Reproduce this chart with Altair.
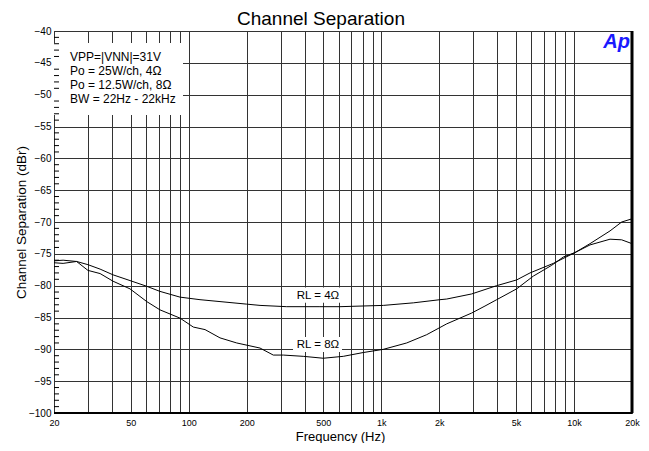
import altair as alt
import pandas as pd

# ---- data ----
f_4ohm = [20, 22.3, 26.2, 30, 34.7, 40.5, 49.6, 60.6, 71, 90.2, 114.5, 145.4, 200, 234.6,
          322.8, 480, 610, 1024, 1466, 2016, 2184, 2944, 3970, 5040, 5910, 7808, 10120,
          12110, 15380, 17680, 20000]
db_4ohm = [-76.1, -76.0, -76.2, -76.7, -77.4, -78.3, -79.2, -80.1, -80.9, -81.8, -82.2, -82.5,
           -82.9, -83.1, -83.3, -83.3, -83.3, -83.1, -82.7, -82.2, -82.1, -81.3, -80.0, -79.1,
           -78.0, -76.5, -74.8, -73.6, -72.7, -72.8, -73.4]
f_8ohm = [20, 22.3, 26.2, 30, 34.7, 40.5, 49.6, 60.6, 71, 90.2, 105.7, 121.6, 145.4, 177.6,
          234.6, 274.9, 309.9, 393.4, 499.6, 634.7, 806, 1024, 1354, 1719, 2184, 2944, 3451,
          3970, 5040, 6148, 7660, 8800, 10120, 12110, 15380, 17680, 20000]
db_8ohm = [-76.4, -76.5, -76.2, -77.6, -78.1, -79.3, -80.5, -82.5, -83.8, -85.1, -86.5, -86.9,
           -88.2, -89.0, -89.8, -90.9, -90.9, -91.1, -91.4, -91.1, -90.5, -90.0, -89.0, -87.7,
           -86.0, -84.3, -83.2, -82.2, -80.5, -78.5, -76.8, -75.5, -74.8, -73.4, -71.4, -70.0,
           -69.5]

x_grid = [20, 30, 40, 50, 60, 70, 80, 90, 100, 200, 300, 400, 500, 600, 700, 800, 900,
          1000, 2000, 3000, 4000, 5000, 6000, 7000, 8000, 9000, 10000, 20000]
x_labelled = [20, 50, 100, 200, 500, 1000, 2000, 5000, 10000, 20000]
y_major = list(range(-100, -39, 5))
y_minor = [v for v in range(-99, -40) if v % 5 != 0]

title_text = "Channel Separation"
notes = ["VPP=|VNN|=31V", "Po = 25W/ch, 4Ω", "Po = 12.5W/ch, 8Ω", "BW = 22Hz - 22kHz"]
rl_text = ["RL = 4Ω", "RL = 8Ω"]
rl_f = [469, 469]
rl_db = [-81.6, -89.35]
rl_box_f1 = [348, 348]
rl_box_f2 = [625, 625]
rl_box_db1 = [-80.3, -88.05]
rl_box_db2 = [-82.7, -90.4]

FONT = "Liberation Sans"

curves = pd.concat([
    pd.DataFrame({"f": f_4ohm, "db": db_4ohm, "s": "4"}),
    pd.DataFrame({"f": f_8ohm, "db": db_8ohm, "s": "8"}),
])

label_expr = ("indexof(%s, datum.value) < 0 ? '' : (datum.value >= 1000 ? "
              "(datum.value/1000) + 'k' : '' + datum.value)") % str(x_labelled)

xs = alt.Scale(type="log", domain=[20, 20000], nice=False)
ys = alt.Scale(domain=[-100, -40], nice=False)

x_axis = alt.Axis(values=x_grid, tickCount=40, labelExpr=label_expr, title="Frequency (Hz)",
                  grid=True, ticks=False, domain=False, labelFontSize=9,
                  labelPadding=5, titleFontSize=13, titleX=286, titleY=23,
                  titleBaseline="middle", titleAlign="center",
                  labelFlush=False, labelOverlap=False)
y_axis = alt.Axis(values=y_major, tickCount=20, title="Channel Separation (dBr)", grid=True,
                  ticks=False, domain=False, labelFontSize=10, labelPadding=3,
                  titleFontSize=13.5, titleX=-33, titleY=191, titleAngle=270,
                  titleBaseline="middle", titleAlign="center",
                  labelFlush=False, labelOverlap=False)

lines = alt.Chart(curves).mark_line(color="black", strokeWidth=1).encode(
    x=alt.X("f:Q", scale=xs, axis=x_axis),
    y=alt.Y("db:Q", scale=ys, axis=y_axis),
    detail="s:N",
)

rl_df = pd.DataFrame({"t": rl_text, "f": rl_f, "db": rl_db,
                      "f1": rl_box_f1, "f2": rl_box_f2, "d1": rl_box_db1, "d2": rl_box_db2})
rl_boxes = alt.Chart(rl_df).mark_rect(color="white").encode(
    x=alt.X("f1:Q", scale=xs), x2="f2:Q", y=alt.Y("d1:Q", scale=ys), y2="d2:Q")
rl_labels = alt.Chart(rl_df).mark_text(font=FONT, fontSize=11.5, color="black").encode(
    x=alt.X("f:Q", scale=xs), y=alt.Y("db:Q", scale=ys), text="t:N")

one = pd.DataFrame({"a": [0]})
note_box = alt.Chart(one).mark_rect(color="white").encode(
    x=alt.value(0), x2=alt.value(129), y=alt.value(12), y2=alt.value(84))
note_text = alt.Chart(one).mark_text(text=notes, font=FONT, fontSize=12, lineHeight=14,
                                     align="left", baseline="middle", color="black").encode(
    x=alt.value(16), y=alt.value(26))

title = alt.Chart(one).mark_text(text=title_text, font=FONT, fontSize=19, color="black",
                                 align="center", baseline="alphabetic").encode(
    x=alt.value(267), y=alt.value(-6))

ap = alt.Chart(one).mark_text(text="Ap", font=FONT, fontSize=20, fontWeight="bold",
                              fontStyle="italic", color="#1a1aff", align="right",
                              baseline="top").encode(x=alt.value(576), y=alt.value(1))

minor = alt.Chart(pd.DataFrame({"v": y_minor})).mark_rule(color="black", strokeWidth=1).encode(
    y=alt.Y("v:Q", scale=ys), x=alt.value(0), x2=alt.value(5))

right_border = alt.Chart(one).mark_rule(color="black", strokeWidth=3).encode(
    x=alt.value(578), y=alt.value(0), y2=alt.value(382))
bottom_border = alt.Chart(one).mark_rule(color="black", strokeWidth=2).encode(
    y=alt.value(382), x=alt.value(0), x2=alt.value(578))

chart = alt.layer(
    note_box, rl_boxes, lines, rl_labels, note_text, title, ap, minor,
    right_border, bottom_border
).properties(
    width=578, height=382,
    autosize=alt.AutoSizeParams(type="none"),
    padding={"left": 46, "top": 23, "right": 9, "bottom": 30},
).configure_view(stroke="black", strokeWidth=1).configure_axis(
    labelFont=FONT, titleFont=FONT, labelColor="black", titleColor="black",
    titleFontWeight="normal", gridColor="#333", gridOpacity=1, gridWidth=1,
)

chart.save("out.html", embed_options={"renderer": "svg", "actions": False})
